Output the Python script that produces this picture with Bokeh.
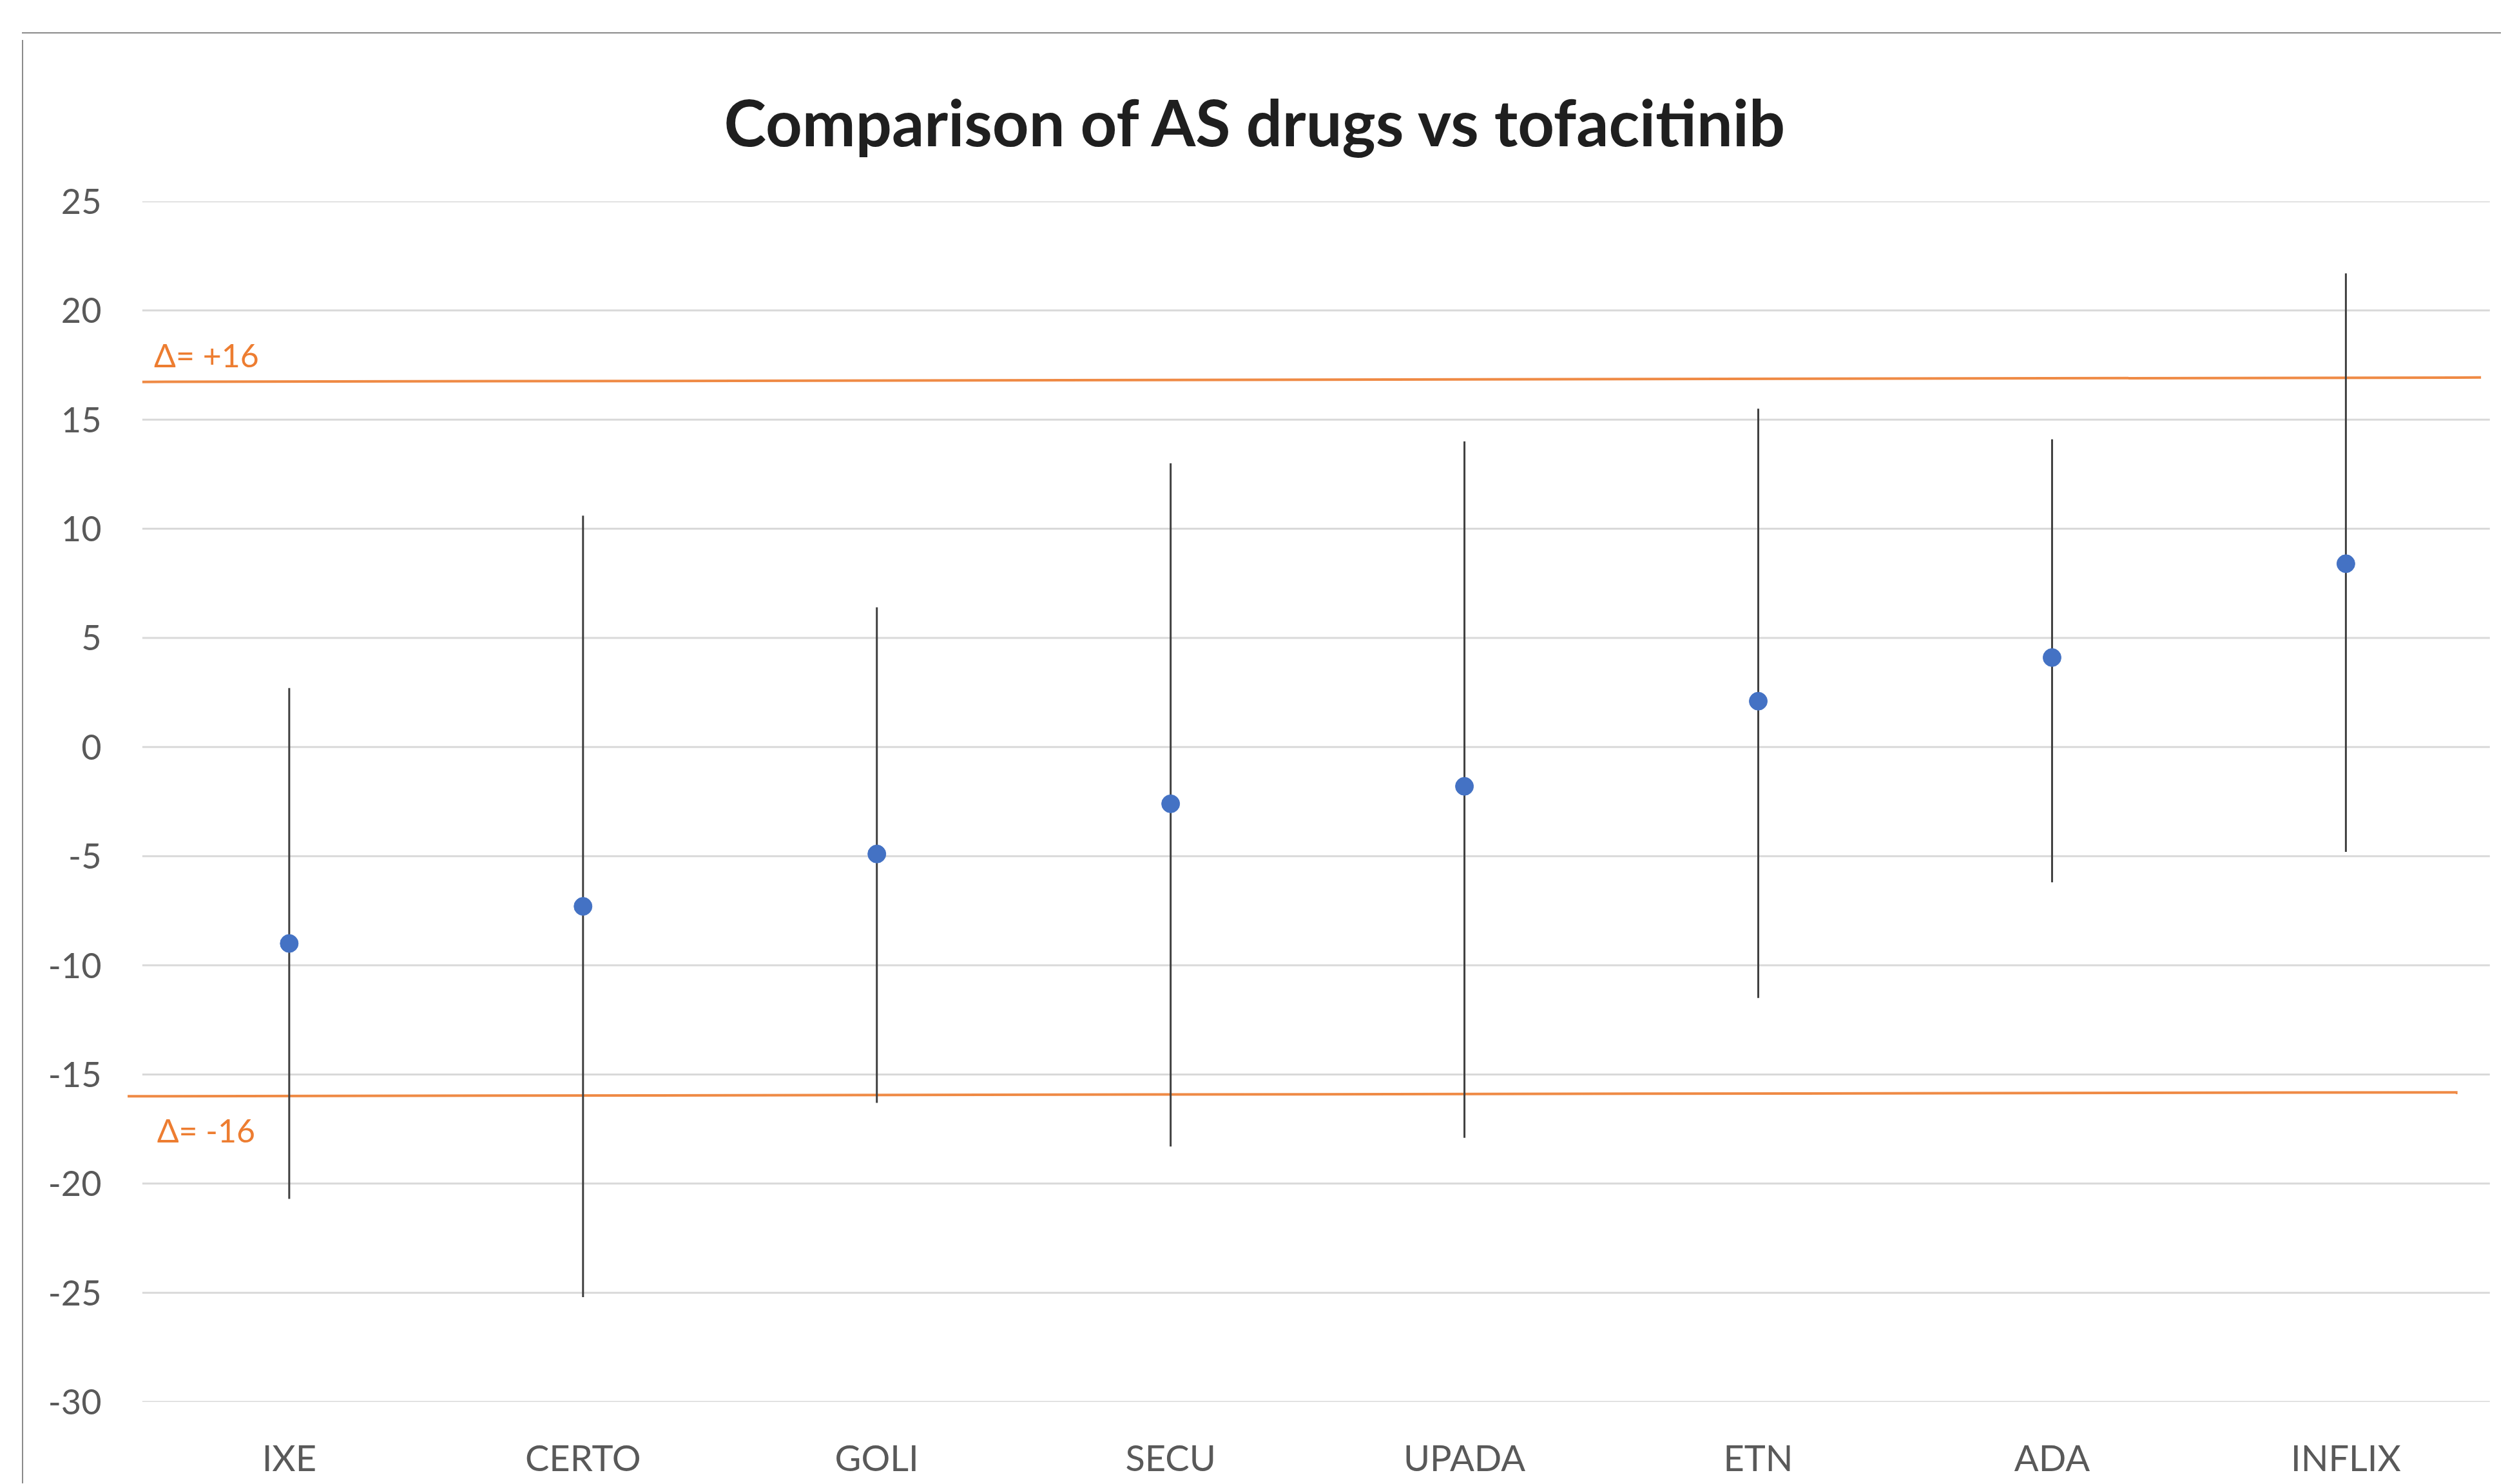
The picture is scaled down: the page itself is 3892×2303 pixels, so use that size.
from bokeh.plotting import figure
from bokeh.models import Range1d, FixedTicker, Div, Spacer, ColumnDataSource
from bokeh.layouts import column, row
from bokeh.core.properties import value
from bokeh.embed import file_html
from bokeh.resources import INLINE

# ---- data ----
categories = ["IXE", "CERTO", "GOLI", "SECU", "UPADA", "ETN", "ADA", "INFLIX"]
estimate = [-9.0, -7.3, -4.9, -2.6, -1.8, 2.1, 4.1, 8.4]
lower = [-20.7, -25.2, -16.3, -18.3, -17.9, -11.5, -6.2, -4.8]
upper = [2.7, 10.6, 6.4, 13.0, 14.0, 15.5, 14.1, 21.7]
y_ticks = [-30, -25, -20, -15, -10, -5, 0, 5, 10, 15, 20, 25]
y_tick_labels = ["-30", "-25", "-20", "-15", "-10", "-5", "0", "5", "10", "15", "20", "25"]
margin_labels = ["\u0394= +16", "\u0394= -16"]
margin_x0 = [0.0, -0.05]
margin_x1 = [7.96, 7.88]
margin_y0 = [16.73, -16.0]
margin_y1 = [16.93, -15.82]
margin_label_x = [0.04, 0.05]
margin_label_y = [17.95, -17.55]
title_text = "Comparison of AS drugs vs tofacitinib"

FONT = "Lato"
xpos = [i + 0.5 for i in range(len(categories))]

p = figure(
    width=3845, height=2240,
    x_range=Range1d(-0.06, 8.02), y_range=Range1d(-30, 25),
    output_backend="svg", toolbar_location=None,
    min_border_left=152, min_border_right=9,
    min_border_top=255, min_border_bottom=121,
)
p.background_fill_color = "white"
p.border_fill_color = "white"
p.outline_line_color = None
p.xgrid.visible = False
p.ygrid.visible = False

p.title.text = title_text
p.title.text_font = FONT
p.title.text_font_style = "bold"
p.title.text_font_size = "99px"
p.title.text_color = "#1f1f1f"
p.title.align = "left"
p.title.offset = 930
p.title.standoff = 130

# gridlines from tick list
p.segment(x0=[0.0] * len(y_ticks), y0=y_ticks, x1=[7.99] * len(y_ticks), y1=y_ticks,
          line_color="#d9d9d9", line_width=3)

# threshold lines
p.segment(x0=margin_x0, y0=margin_y0, x1=margin_x1, y1=margin_y1,
          line_color="#ED7D31", line_width=4, line_alpha=0.9)
p.text(x=margin_label_x, y=margin_label_y, text=margin_labels,
       text_font=value(FONT), text_font_size="50px", text_color="#ED7D31",
       text_align="left", text_baseline="alphabetic")

# error bars
src = ColumnDataSource(dict(x=xpos, est=estimate, lo=lower, hi=upper))
p.segment(x0="x", y0="lo", x1="x", y1="hi", source=src,
          line_color="#404040", line_width=3)
p.scatter(x="x", y="est", source=src, size=28, fill_color="#4472C4",
          line_color="#4472C4", line_width=1)

# axes
p.xaxis.ticker = FixedTicker(ticks=xpos)
p.xaxis.major_label_overrides = {x: c for x, c in zip(xpos, categories)}
p.xaxis.axis_line_color = None
p.xaxis.major_tick_line_color = None
p.xaxis.minor_tick_line_color = None
p.xaxis.major_label_text_font = FONT
p.xaxis.major_label_text_font_size = "56px"
p.xaxis.major_label_text_color = "#595959"
p.xaxis.major_label_standoff = 46

p.yaxis.ticker = FixedTicker(ticks=y_ticks)
p.yaxis.major_label_overrides = {t: s for t, s in zip(y_ticks, y_tick_labels)}
p.yaxis.axis_line_color = None
p.yaxis.major_tick_line_color = None
p.yaxis.minor_tick_line_color = None
p.yaxis.major_label_text_font = FONT
p.yaxis.major_label_text_font_size = "54px"
p.yaxis.major_label_text_color = "#595959"
p.yaxis.major_label_standoff = 30

top_line = Div(width=3847, height=2, styles={"background-color": "#8a8a8a"})
left_line = Div(width=2, height=2240, styles={"background-color": "#8a8a8a"})

layout = column(
    Spacer(width=3876, height=45),
    row(Spacer(width=29, height=2), top_line, spacing=0),
    row(Spacer(width=29, height=2240), left_line, p, spacing=0),
    spacing=0,
)

open("out.html", "w").write(file_html(layout, INLINE))
